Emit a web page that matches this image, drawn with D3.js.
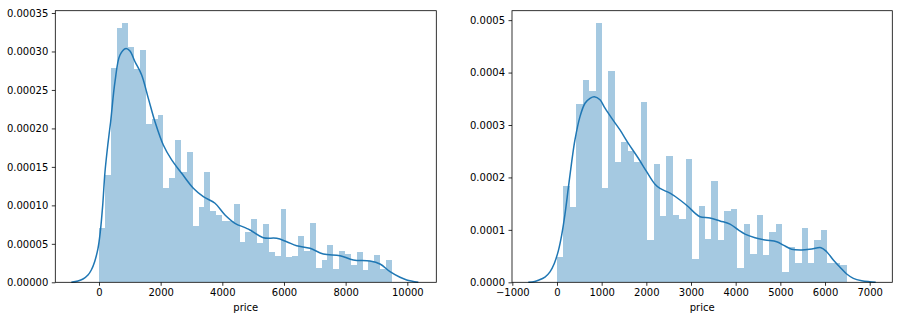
<!DOCTYPE html>
<html>
<head>
<meta charset="utf-8">
<script src="https://cdn.jsdelivr.net/npm/d3@7"></script>
<style>
  html, body { margin: 0; padding: 0; background: #ffffff; }
  svg { display: block; }
  text { font-family: "DejaVu Sans", sans-serif; fill: #000; }
</style>
</head>
<body>
<svg id="chart" width="902" height="320"></svg>
<script>
// ---------------- data ----------------
// Left panel: histogram densities, 50 bins over [0, 9500]
const leftBinRange = [0, 9500];
const leftDensity = [
  7.1e-5, 1.39e-4, 2.785e-4, 3.305e-4, 3.37e-4, 3.058e-4, 2.776e-4, 3.019e-4, 2.061e-4, 2.118e-4,
  2.174e-4, 1.226e-4, 1.356e-4, 1.85e-4, 1.438e-4, 1.698e-4, 7.36e-5, 9.79e-5, 1.434e-4, 9.27e-5,
  8.75e-5, 7.97e-5, 7.97e-5, 1.018e-4, 5.24e-5, 6.58e-5, 8.23e-5, 5.11e-5, 7.58e-5, 3.94e-5,
  3.42e-5, 9.53e-5, 3.29e-5, 3.42e-5, 6.02e-5, 4.07e-5, 7.71e-5, 1.86e-5, 2.9e-5, 4.85e-5,
  1.73e-5, 4.07e-5, 3.68e-5, 2.27e-5, 3.94e-5, 1.6e-5, 2.77e-5, 3.55e-5, 1.73e-5, 2.9e-5
];
// Left panel: KDE curve points [price, density]
const leftKde = [
  [-897,0],[-681,1.7e-6],[-519,4.3e-6],[-357,9.5e-6],[-249,1.6e-5],[-141,2.68e-5],[-32,4.42e-5],
  [43,6.58e-5],[120,1.0e-4],[195,1.437e-4],[290,1.8e-4],[378,2.087e-4],[519,2.607e-4],[681,2.954e-4],[876,3.04e-4],
  [1005,3.006e-4],[1168,2.867e-4],[1384,2.694e-4],[1600,2.391e-4],[1816,2.087e-4],[2086,1.784e-4],
  [2357,1.59e-4],[2681,1.417e-4],[3060,1.222e-4],[3384,1.113e-4],[3763,1.027e-4],[4087,8.75e-5],
  [4411,7.67e-5],[4736,7.1e-5],[4898,6.8e-5],[5330,5.8e-5],[5763,5.72e-5],[6087,5.28e-5],
  [6411,4.76e-5],[6844,4.42e-5],[7276,3.68e-5],[7817,3.46e-5],[8249,2.9e-5],[8790,2.77e-5],
  [9114,2.38e-5],[9439,1.38e-5],[9763,6.5e-6],[9980,3e-6],[10357,0]
];
const leftXTicks = [0, 2000, 4000, 6000, 8000, 10000];
const leftYTicks = [0, 0.00005, 0.0001, 0.00015, 0.0002, 0.00025, 0.0003, 0.00035];
const leftXDomain = [-1417, 10940];
const leftYDomain = [0, 0.000353];

// Right panel: histogram densities, 45 bins over [0, 6485]
const rightBinRange = [0, 6485];
const rightDensity = [
  4.83e-5, 1.837e-4, 1.437e-4, 3.402e-4, 3.86e-4, 3.65e-4, 4.947e-4, 1.8e-4, 4.03e-4, 2.295e-4,
  2.677e-4, 2.505e-4, 2.295e-4, 3.44e-4, 8.07e-5, 2.257e-4, 1.265e-4, 2.41e-4, 1.284e-4, 1.208e-4,
  2.353e-4, 4.45e-5, 1.456e-4, 8.26e-5, 1.933e-4, 8.07e-5, 1.36e-4, 1.399e-4, 2.73e-5, 1.112e-4,
  5.4e-5, 1.284e-4, 5.21e-5, 9.6e-5, 1.112e-4, 1.97e-5, 6.74e-5, 3.68e-5, 1.036e-4, 3.68e-5,
  8.07e-5, 9.98e-5, 3.68e-5, 3.68e-5, 3.3e-5
];
// Right panel: KDE curve points [price, density]
const rightKde = [
  [-642,0],[-500,1.5e-6],[-418,3.8e-6],[-269,1.0e-5],[-157,2.0e-5],[-60,3.6e-5],[30,6.0e-5],
  [105,9.0e-5],[179,1.3e-4],[254,1.8e-4],[330,2.3e-4],[403,2.72e-4],[515,3.16e-4],[627,3.415e-4],
  [739,3.51e-4],[836,3.54e-4],[963,3.48e-4],[1075,3.32e-4],[1224,3.13e-4],[1410,2.906e-4],
  [1597,2.65e-4],[1821,2.366e-4],[2007,2.11e-4],[2194,1.87e-4],[2306,1.79e-4],[2530,1.7e-4],
  [2754,1.57e-4],[2940,1.44e-4],[3089,1.32e-4],[3201,1.25e-4],[3425,1.227e-4],[3649,1.17e-4],
  [3873,1.11e-4],[4060,9.98e-5],[4209,9.2e-5],[4433,8.5e-5],[4657,8.07e-5],[4918,7.75e-5],
  [5067,7.1e-5],[5254,6.3e-5],[5478,6.16e-5],[5702,6.35e-5],[5910,6.6e-5],[6037,5.84e-5],
  [6186,4.25e-5],[6336,2.86e-5],[6485,1.58e-5],[6634,7.6e-6],[6821,3e-6],[7000,1e-6],[7134,0]
];
const rightXTicks = [-1000, 0, 1000, 2000, 3000, 4000, 5000, 6000, 7000];
const rightYTicks = [0, 0.0001, 0.0002, 0.0003, 0.0004, 0.0005];
const rightXDomain = [-1007, 7506];
const rightYDomain = [0, 0.000518];

const xLabel = "price";

// ---------------- drawing ----------------
const svg = d3.select("#chart");
const barColor = "#1f77b4";
const lineColor = "#1f77b4";

function panel(opts) {
  const { left, right, top, bottom, binRange, density, kde, xTicks, yTicks, xDomain, yDomain, yFmt } = opts;
  const g = svg.append("g");
  const x = d3.scaleLinear().domain(xDomain).range([left, right]);
  const y = d3.scaleLinear().domain(yDomain).range([bottom, top]);

  const n = density.length;
  const w = (binRange[1] - binRange[0]) / n;
  const bins = density.map((d, i) => ({ x0: binRange[0] + i * w, x1: binRange[0] + (i + 1) * w, v: d }));

  g.append("g").selectAll("rect").data(bins).join("rect")
    .attr("x", d => x(d.x0))
    .attr("width", d => x(d.x1) - x(d.x0))
    .attr("y", d => y(d.v))
    .attr("height", d => y(0) - y(d.v))
    .attr("fill", barColor)
    .attr("fill-opacity", 0.4)
    .attr("shape-rendering", "crispEdges");

  const line = d3.line().x(d => x(d[0])).y(d => Math.min(y(d[1]), bottom)).curve(d3.curveCatmullRom.alpha(0.5));
  g.append("path").datum(kde)
    .attr("d", line)
    .attr("fill", "none")
    .attr("stroke", lineColor)
    .attr("stroke-width", 1.5);

  // axes
  const xAxis = d3.axisBottom(x).tickValues(xTicks).tickSize(3.5).tickPadding(3.5)
    .tickFormat(d => d < 0 ? "\u2212" + Math.abs(d) : String(d));
  const yAxis = d3.axisLeft(y).tickValues(yTicks).tickSize(3.5).tickPadding(3.5)
    .tickFormat(d => d.toFixed(yFmt));

  const gx = g.append("g").attr("transform", `translate(0,${bottom})`).call(xAxis);
  const gy = g.append("g").attr("transform", `translate(${left},0)`).call(yAxis);
  [gx, gy].forEach(a => {
    a.select(".domain").remove();
    a.selectAll("line").attr("stroke", "#000").attr("stroke-width", 0.8);
    a.selectAll("text").attr("font-size", 10).attr("font-family", "DejaVu Sans").attr("fill", "#000");
  });

  // frame
  g.append("rect")
    .attr("x", left).attr("y", top)
    .attr("width", right - left).attr("height", bottom - top)
    .attr("fill", "none").attr("stroke", "#000").attr("stroke-width", 0.8);

  g.append("text")
    .attr("x", (left + right) / 2).attr("y", bottom + 29)
    .attr("text-anchor", "middle").attr("font-size", 10)
    .text(xLabel);
}

panel({ left: 55.3, right: 436.3, top: 10.7, bottom: 282.3, binRange: leftBinRange, density: leftDensity,
  kde: leftKde, xTicks: leftXTicks, yTicks: leftYTicks, xDomain: leftXDomain, yDomain: leftYDomain, yFmt: 5 });
panel({ left: 512, right: 892.3, top: 10.7, bottom: 282.3, binRange: rightBinRange, density: rightDensity,
  kde: rightKde, xTicks: rightXTicks, yTicks: rightYTicks, xDomain: rightXDomain, yDomain: rightYDomain, yFmt: 4 });
</script>
</body>
</html>
